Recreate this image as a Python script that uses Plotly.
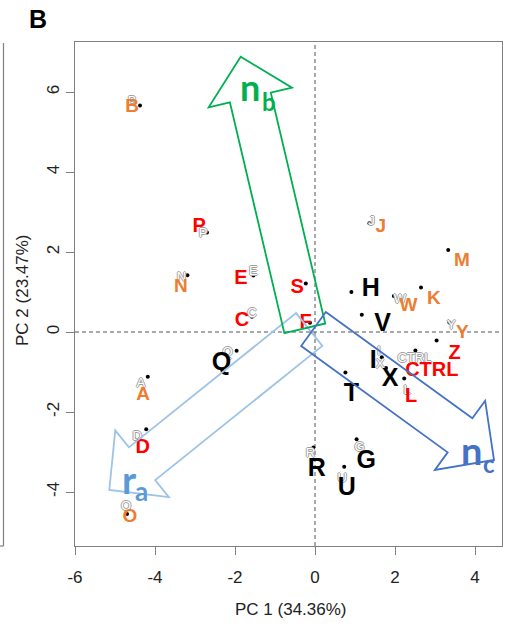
import plotly.graph_objects as go
import numpy as np

# ---------------- data ----------------
labels = ["A", "B", "C", "D", "E", "F", "G", "H", "I", "J", "K", "L", "M", "N",
          "O", "P", "Q", "R", "S", "T", "U", "V", "W", "X", "Y", "Z", "CTRL"]
pc1 = [-4.18, -4.375, -1.575, -4.22, -1.54, -0.125, 1.04, 0.91, 1.67, 1.36, 2.65, 2.23, 3.33, -3.19,
       -4.70, -2.70, -1.96, -0.04, -0.23, 0.76, 0.73, 1.17, 1.97, 1.775, 3.36, 3.04, 2.51]
pc2 = [-1.12, 5.66, 0.38, -2.43, 1.41, 0.23, -2.68, 1.00, -0.63, 2.72, 1.11, -1.16, 2.05, 1.42,
       -4.55, 2.49, -0.47, -2.89, 1.21, -1.01, -3.37, 0.43, 0.90, -0.90, 0.24, -0.21, -0.46]
groups = ["orange", "orange", "red", "red", "red", "red", "black", "black", "black", "orange",
          "orange", "red", "orange", "orange", "orange", "red", "black", "black", "red", "black",
          "black", "black", "orange", "black", "orange", "red", "red"]

arrow_names = ["r_a", "n_b", "n_c"]
arrow_tail_x = [-0.145, -0.255, -0.0375]
arrow_tail_y = [0.0625, 0.092, 0.075]
arrow_tip_x = [-5.1425, -1.858, 4.475]
arrow_tip_y = [-3.95, 6.883, -3.2]

x_ticks = [-6, -4, -2, 0, 2, 4]
y_ticks = [-4, -2, 0, 2, 4, 6]
x_title = "PC 1 (34.36%)"
y_title = "PC 2 (23.47%)"
panel_label = "B"

# ---------------- style ----------------
W, H = 506, 628
ML, MR, MT, MB = 75, 4, 42, 82
XR = [-6.0, 4.675]
YR = [-5.35, 7.25]
sx = (W - ML - MR) / (XR[1] - XR[0])
sy = (H - MT - MB) / (YR[1] - YR[0])

FONT = "Liberation Sans"
group_color = {"orange": "#ED7D31", "red": "#FF0000", "black": "#000000"}
group_size = {"orange": 19, "red": 20, "black": 25}
LABEL_DY = 3  # global downward nudge of labels (px)

# label offsets in pixels (dx right, dy down) relative to the dot
label_offset = {
    "A": (-4.7, 15), "B": (-8, -1), "C": (-10, 1.6), "D": (-3.5, 16), "E": (-12.6, 0.5),
    "F": (-4.5, -2.7), "G": (9.7, 20), "H": (19.5, -5.3), "I": (-8.5, 2), "J": (11.4, 1),
    "K": (12.8, 9), "L": (7, 15.7), "M": (13.7, 8.3), "N": (-6.5, 9), "O": (3, 0),
    "P": (-7.8, -8.7), "Q": (-15, 10), "R": (3.4, 19.3), "S": (-8.7, 1.3), "T": (6, 19.4),
    "U": (2.7, 19), "V": (20.8, 6.7), "W": (14.6, 7.3), "X": (4, 8.5), "Y": (12.9, 7.7),
    "Z": (18, 10.2), "CTRL": (16.4, 17.7),
}
ghost_offset = {
    "A": (-7, 5), "B": (-8, -6), "C": (0, -5), "D": (-9, 6), "E": (0, -6), "G": (3, 7),
    "I": (-3, -7), "J": (2, -3), "N": (-6, 1), "O": (-1, -9), "P": (-4, -1), "Q": (-9, 0),
    "R": (-3, 4), "U": (-2, 10), "W": (6, 2), "X": (-6, -5), "Y": (2, 1), "CTRL": (-1, 6),
    "L": (3, 10),
}

arrow_style = {
    "r_a": dict(color="#9DC3E6", main="r", sub="a", tcolor="#5B9BD5",
                mpos=(129, 479), spos=(141, 491), msize=38, ssize=26),
    "n_b": dict(color="#00B050", main="n", sub="b", tcolor="#00B050",
                mpos=(250, 87), spos=(268.5, 101), msize=36, ssize=24),
    "n_c": dict(color="#4472C4", main="n", sub="c", tcolor="#4472C4",
                mpos=(471, 450), spos=(488.5, 463.5), msize=38, ssize=24),
}
SHAFT_W = 42 / sx
HEAD_W = 85.6 / sx
HEAD_L = 42 / sx


def px2x(px):
    return XR[0] + (px - ML) / sx


def px2y(py):
    return YR[1] - (py - MT) / sy


def arrow_path(tx, ty, hx, hy):
    t = np.array([tx, ty])
    p = np.array([hx, hy])
    d = (p - t) / np.linalg.norm(p - t)
    n = np.array([-d[1], d[0]])
    b = p - d * HEAD_L
    pts = [t + n * SHAFT_W / 2, b + n * SHAFT_W / 2, b + n * HEAD_W / 2, p,
           b - n * HEAD_W / 2, b - n * SHAFT_W / 2, t - n * SHAFT_W / 2]
    return "M " + " L ".join(f"{q[0]:.4f},{q[1]:.4f}" for q in pts) + " Z"


fig = go.Figure()

# dots
fig.add_trace(go.Scatter(x=pc1, y=pc2, mode="markers",
                         marker=dict(color="black", size=4), hoverinfo="skip", showlegend=False))

# ghost labels
gx, gy, gt = [], [], []
for lab, x, y in zip(labels, pc1, pc2):
    if lab in ghost_offset:
        dx, dy = ghost_offset[lab]
        gx.append(x + dx / sx)
        gy.append(y - (dy + 2) / sy)
        gt.append(lab)
fig.add_trace(go.Scatter(
    x=gx, y=gy, text=gt, mode="text", textposition="middle center",
    textfont=dict(family=FONT, size=13, color="white",
                  shadow="1px 0 0 #a0a0a0, -1px 0 0 #a0a0a0, 0 1px 0 #a0a0a0, 0 -1px 0 #a0a0a0"),
    hoverinfo="skip", showlegend=False))

# coloured labels
for g in ["orange", "red", "black"]:
    xs, ys, ts = [], [], []
    for lab, x, y, gg in zip(labels, pc1, pc2, groups):
        if gg != g:
            continue
        dx, dy = label_offset[lab]
        xs.append(x + dx / sx)
        ys.append(y - (dy + LABEL_DY) / sy)
        ts.append(lab)
    fig.add_trace(go.Scatter(
        x=xs, y=ys, text=ts, mode="text", textposition="middle center",
        textfont=dict(family=FONT, size=group_size[g], color=group_color[g], weight="bold"),
        hoverinfo="skip", showlegend=False))

shapes = []
# dashed reference lines
shapes.append(dict(type="line", xref="x", yref="paper", x0=0, x1=0, y0=0, y1=1,
                   line=dict(color="#555555", width=1, dash="4px,3px"), layer="below"))
shapes.append(dict(type="line", xref="paper", yref="y", x0=0, x1=1, y0=0, y1=0,
                   line=dict(color="#555555", width=1, dash="4px,3px"), layer="below"))
# arrows
for name, tx, ty, hx, hy in zip(arrow_names, arrow_tail_x, arrow_tail_y, arrow_tip_x, arrow_tip_y):
    st = arrow_style[name]
    shapes.append(dict(type="path", xref="x", yref="y", path=arrow_path(tx, ty, hx, hy),
                       line=dict(color=st["color"], width=1.8), fillcolor="rgba(0,0,0,0)",
                       layer="above"))
# neighbouring panel edge
pw = W - ML - MR
ph = H - MT - MB
def pxp(px):
    return (px - ML) / pw
def pyp(py):
    return 1 - (py - MT) / ph
shapes.append(dict(type="line", xref="paper", yref="paper", x0=pxp(3.5), x1=pxp(3.5),
                   y0=pyp(43), y1=pyp(546), line=dict(color="#808080", width=1.2)))
shapes.append(dict(type="line", xref="paper", yref="paper", x0=pxp(0), x1=pxp(3.5),
                   y0=pyp(546), y1=pyp(546), line=dict(color="#808080", width=1.2)))

annotations = []
for name in arrow_names:
    st = arrow_style[name]
    annotations.append(dict(x=px2x(st["mpos"][0]), y=px2y(st["mpos"][1]), xref="x", yref="y",
                            text=st["main"], showarrow=False, xanchor="center", yanchor="middle",
                            font=dict(family="Lato", size=st["msize"], color=st["tcolor"], weight="bold")))
    annotations.append(dict(x=px2x(st["spos"][0]), y=px2y(st["spos"][1]), xref="x", yref="y",
                            text=st["sub"], showarrow=False, xanchor="center", yanchor="middle",
                            font=dict(family="Lato", size=st["ssize"], color=st["tcolor"], weight="bold")))
# axis titles
annotations.append(dict(x=pxp(291), y=pyp(609), xref="paper", yref="paper", text=x_title,
                        showarrow=False, xanchor="center", yanchor="middle",
                        font=dict(family=FONT, size=17, color="#222222")))
annotations.append(dict(x=pxp(22), y=pyp(290), xref="paper", yref="paper", text=y_title,
                        showarrow=False, xanchor="center", yanchor="middle", textangle=-90,
                        font=dict(family=FONT, size=17, color="#222222")))
annotations.append(dict(x=pxp(38), y=pyp(19), xref="paper", yref="paper", text=panel_label,
                        showarrow=False, xanchor="center", yanchor="middle",
                        font=dict(family=FONT, size=25, color="black", weight="bold")))

axis_common = dict(showgrid=False, zeroline=False, showline=True, mirror=True,
                   linecolor="#808080", linewidth=1.2, ticks="outside", ticklen=8,
                   tickcolor="#808080", tickwidth=1.2,
                   tickfont=dict(family=FONT, size=17, color="#222222"))

fig.update_layout(
    width=W, height=H, margin=dict(l=ML, r=MR, t=MT, b=MB, pad=0),
    paper_bgcolor="white", plot_bgcolor="white",
    xaxis=dict(range=XR, tickvals=x_ticks, ticktext=[str(v) for v in x_ticks],
               ticklabelstandoff=7, **axis_common),
    yaxis=dict(range=YR, tickvals=y_ticks, ticktext=[str(v) for v in y_ticks],
               tickangle=-90, ticklabelstandoff=0, **axis_common),
    shapes=shapes, annotations=annotations, showlegend=False,
)

fig.write_html("out.html", config={"displayModeBar": False},
               post_script="document.body.style.margin='0px';document.body.style.overflow='hidden';")
